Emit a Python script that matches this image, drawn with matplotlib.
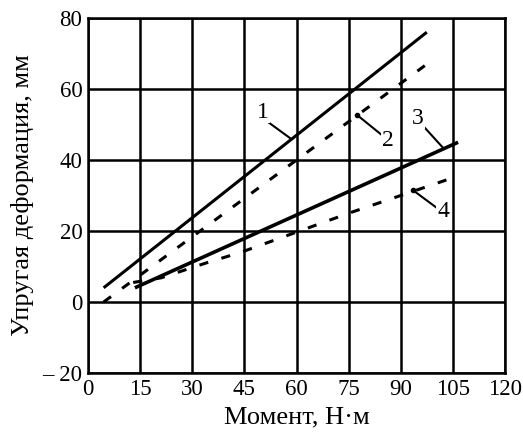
import matplotlib.pyplot as plt

# curve data (moment, N*m -> deformation, mm)
x1 = [4.5, 97.5]
y1 = [4, 76]
x2 = [4.5, 97.5]
y2 = [0, 67]
x3 = [13.5, 106.5]
y3 = [4, 45]
x4 = [13, 21, 34, 44, 75, 90, 105]
y4 = [5.5, 6.8, 11, 14, 25, 30, 35]

xticks = [0, 15, 30, 45, 60, 75, 90, 105, 120]
yticks = [-20, 0, 20, 40, 60, 80]
ytick_labels = ["\u2013 20", "0", "20", "40", "60", "80"]

plt.rcParams["font.family"] = ["Liberation Serif", "DejaVu Serif"]

fig = plt.figure(figsize=(5.23, 4.36), dpi=100)
ax = fig.add_axes([88 / 523, 1 - 373 / 436, 417 / 523, 355 / 436])

ax.plot(x1, y1, color="black", lw=2.2, solid_capstyle="butt")
ax.plot(x2, y2, color="black", lw=2.2, linestyle=(0, (3, 4.5)))
ax.plot(x3, y3, color="black", lw=2.6, solid_capstyle="butt")
ax.plot(x4, y4, color="black", lw=2.2, linestyle=(0, (3, 4.5)))

ax.set_xlim(0, 120)
ax.set_ylim(-20, 80)
ax.set_xticks(xticks)
ax.set_yticks(yticks)
ax.set_yticklabels(ytick_labels)
ax.tick_params(length=0, labelsize=16.5, pad=4)
ax.grid(True, color="black", lw=1.8)
for s in ax.spines.values():
    s.set_linewidth(1.8)

# curve labels with leader lines
labels = [
    ("1", (50.4, 53.5), (51.8, 50.7), (58.1, 46.2), False),
    ("2", (86.3, 45.5), (77.4, 52.7), (84.6, 47.0), True),
    ("3", (95.0, 51.8), (97.0, 49.0), (102.2, 43.4), False),
    ("4", (102.2, 25.5), (93.5, 31.5), (100.4, 26.5), True),
]
for txt, tpos, p0, p1, dot in labels:
    ax.text(tpos[0], tpos[1], txt, fontsize=17, ha="center", va="center",
            bbox=dict(facecolor="white", edgecolor="none", pad=0.5))
    ax.plot([p0[0], p1[0]], [p0[1], p1[1]], color="black", lw=1.5)
    if dot:
        ax.plot(p0[0], p0[1], "o", color="black", ms=3)

ax.set_xlabel("Момент, Н·м", fontsize=19, labelpad=5)
ax.set_ylabel("Упругая деформация, мм", fontsize=19, labelpad=6)

fig.savefig("out.png", dpi=100)
